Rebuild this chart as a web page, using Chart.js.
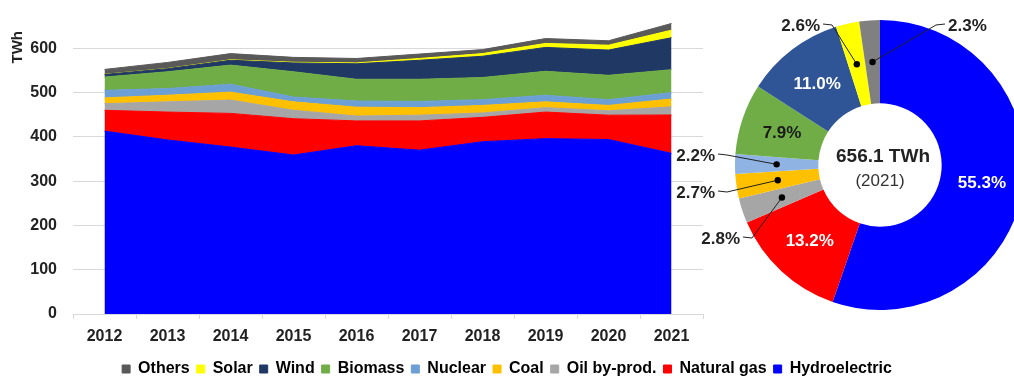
<!DOCTYPE html>
<html>
<head>
<meta charset="utf-8">
<title>Electricity generation by source</title>
<script src="https://cdn.jsdelivr.net/npm/chart.js@4.4.1/dist/chart.umd.min.js"></script>
<style>
  html, body { margin: 0; padding: 0; background: #fff; overflow: hidden; }
  #wrap { position: relative; width: 1014px; height: 376px; }
  #wrap canvas { position: absolute; left: 0; top: 0; }
</style>
</head>
<body>
<div id="wrap">
  <canvas id="areaChart" width="1014" height="376"></canvas>
  <canvas id="pieChart" width="1014" height="376"></canvas>
</div>
<script>
// Generation by source, TWh
const years = ['2012', '2013', '2014', '2015', '2016', '2017', '2018', '2019', '2020', '2021'];
const hydro = [413, 393, 377, 359, 380, 370, 389, 396, 394, 362.8];
const naturalGas = [47, 63, 76, 82, 56, 66, 55, 60, 55, 86.6];
const oilByProd = [15, 23, 30, 19, 11, 13, 10, 10, 10, 18.4];
const coal = [13, 15, 18, 19, 20, 17, 17, 13, 12, 17.7];
const nuclear = [17, 15, 18, 11, 14, 14, 13, 15, 13, 14.4];
const biomass = [30, 38, 43, 57, 49, 50, 50, 54, 55, 51.8];
const wind = [6, 7, 11, 20, 35, 43, 48, 54, 57, 72.2];
const solar = [0.3, 0.5, 1, 1.5, 2, 4, 6, 9, 11, 17.1];
const others = [11, 13.5, 14, 11, 10, 10, 9, 11, 10, 15.1];

// 2021 share of each source, %
const pieLabels = ['Hydroelectric', 'Natural gas', 'Oil by-prod.', 'Coal', 'Nuclear', 'Biomass', 'Wind', 'Solar', 'Others'];
const share2021 = [55.3, 13.2, 2.8, 2.7, 2.2, 7.9, 11.0, 2.6, 2.3];

const yTicks = [0, 100, 200, 300, 400, 500, 600];

const FONT = "'Liberation Sans', Arial, sans-serif";
const TEXT = '#222';

const series = [
  { label: 'Hydroelectric', data: hydro, color: '#0000FF' },
  { label: 'Natural gas', data: naturalGas, color: '#FF0000' },
  { label: 'Oil by-prod.', data: oilByProd, color: '#A6A6A6' },
  { label: 'Coal', data: coal, color: '#FFC000' },
  { label: 'Nuclear', data: nuclear, color: '#6C9FD3' },
  { label: 'Biomass', data: biomass, color: '#70AD47' },
  { label: 'Wind', data: wind, color: '#203864' },
  { label: 'Solar', data: solar, color: '#FFFF00' },
  { label: 'Others', data: others, color: '#595959' }
];

const pieColors = ['#0000FF', '#FF0000', '#A6A6A6', '#FFC000', '#8FB4E3', '#70AD47', '#2F5597', '#FFFF00', '#808080'];

// rotated unit label next to the top tick
const unitLabel = {
  id: 'unitLabel',
  afterDraw(chart) {
    const ctx = chart.ctx;
    const y = chart.scales.y.getPixelForValue(600);
    ctx.save();
    ctx.translate(18, y - 1);
    ctx.rotate(-Math.PI / 2);
    ctx.font = 'bold 15px ' + FONT;
    ctx.fillStyle = TEXT;
    ctx.textAlign = 'center';
    ctx.textBaseline = 'middle';
    ctx.fillText('TWh', 0, 0);
    ctx.restore();
  }
};

new Chart(document.getElementById('areaChart'), {
  type: 'line',
  data: {
    labels: years,
    datasets: series.map((s, i) => ({
      label: s.label,
      data: s.data,
      backgroundColor: s.color,
      borderColor: s.color,
      borderWidth: 1,
      pointRadius: 0,
      tension: 0,
      fill: i === 0 ? 'origin' : '-1'
    }))
  },
  options: {
    responsive: false,
    animation: false,
    events: [],
    layout: { padding: { top: 4, bottom: -11, left: 0, right: 0 } },
    scales: {
      x: {
        offset: true,
        grid: { offset: true, drawOnChartArea: false, tickLength: 5, color: '#d9d9d9' },
        border: { color: '#d9d9d9' },
        ticks: { padding: 8, color: TEXT, font: { family: FONT, size: 16, weight: 'bold' } },
        afterFit: s => { s.height = 40; }
      },
      y: {
        stacked: true,
        min: 0,
        max: 700,
        afterBuildTicks: s => { s.ticks = yTicks.map(v => ({ value: v })); },
        grid: { color: '#d9d9d9', drawTicks: false },
        border: { display: false },
        ticks: { padding: 16, color: TEXT, font: { family: FONT, size: 16, weight: 'bold' } },
        afterFit: s => {
          s.width = 73;
          s.paddingTop = 0;
          s.paddingBottom = 0;
        }
      },
      // keeps the right part of the canvas free for the ring
      yRight: {
        type: 'linear',
        position: 'right',
        grid: { display: false },
        border: { display: false },
        ticks: { display: false },
        afterFit: s => {
          s.width = 311;
          s.paddingTop = 0;
          s.paddingBottom = 0;
        }
      }
    },
    plugins: {
      legend: {
        position: 'bottom',
        reverse: true,
        labels: {
          boxWidth: 8,
          boxHeight: 8,
          padding: 7,
          color: '#000',
          font: { family: FONT, size: 16, weight: 'bold' }
        }
      },
      tooltip: { enabled: false }
    }
  },
  plugins: [unitLabel]
});

// small slices get a dot, a leader and an outside label (offsets from ring centre)
const callouts = {
  'Oil by-prod.': { dx: -140, dy: 73, align: 'right' },
  'Coal': { dx: -165, dy: 27, align: 'right' },
  'Nuclear': { dx: -165, dy: -10, align: 'right' },
  'Solar': { dx: -60, dy: -140, align: 'right' },
  'Others': { dx: 68, dy: -140, align: 'left' }
};
const darkInside = ['Biomass'];

const total2021 = series.reduce((sum, s) => sum + s.data[s.data.length - 1], 0);

const ringLabels = {
  id: 'ringLabels',
  afterDatasetsDraw(chart) {
    const ctx = chart.ctx;
    const arcs = chart.getDatasetMeta(0).data;
    const cx = arcs[0].x;
    const cy = arcs[0].y;
    ctx.save();
    ctx.font = 'bold 17px ' + FONT;
    ctx.textBaseline = 'middle';
    arcs.forEach((arc, i) => {
      const name = chart.data.labels[i];
      const text = share2021[i].toFixed(1) + '%';
      const p = arc.tooltipPosition();
      const c = callouts[name];
      if (!c) {
        ctx.fillStyle = darkInside.includes(name) ? '#1a1a1a' : '#fff';
        ctx.textAlign = 'center';
        ctx.fillText(text, p.x, p.y + 1);
        return;
      }
      const tx = cx + c.dx;
      const ty = cy + c.dy;
      const dir = c.align === 'right' ? 1 : -1;
      ctx.strokeStyle = '#222';
      ctx.lineWidth = 1;
      ctx.beginPath();
      ctx.moveTo(tx + dir * 3, ty - 1);
      ctx.lineTo(tx + dir * 12, ty);
      ctx.lineTo(p.x, p.y);
      ctx.stroke();
      ctx.fillStyle = '#000';
      ctx.beginPath();
      ctx.arc(p.x, p.y, 3.2, 0, Math.PI * 2);
      ctx.fill();
      ctx.fillStyle = TEXT;
      ctx.textAlign = c.align;
      ctx.fillText(text, tx, ty + 1);
    });
    ctx.textAlign = 'center';
    ctx.fillStyle = TEXT;
    ctx.font = 'bold 19px ' + FONT;
    ctx.fillText(total2021.toFixed(1) + ' TWh', cx + 3, cy - 8);
    ctx.font = '17px ' + FONT;
    ctx.fillStyle = '#333';
    ctx.fillText('(2021)', cx, cy + 16);
    ctx.restore();
  }
};

new Chart(document.getElementById('pieChart'), {
  type: 'doughnut',
  data: {
    labels: pieLabels,
    datasets: [{
      data: share2021,
      backgroundColor: pieColors,
      borderWidth: 0,
      clip: false
    }]
  },
  options: {
    responsive: false,
    animation: false,
    events: [],
    radius: 145,
    cutout: 57,
    layout: { padding: { left: 746, right: 0, top: 20, bottom: 66 } },
    plugins: {
      legend: { display: false },
      tooltip: { enabled: false }
    }
  },
  plugins: [ringLabels]
});
</script>
</body>
</html>
